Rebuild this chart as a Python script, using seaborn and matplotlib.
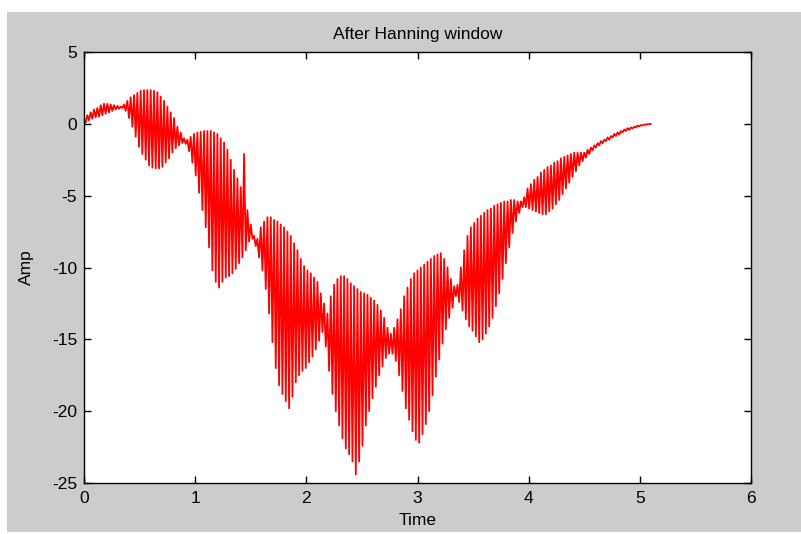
import numpy as np
import pandas as pd
import matplotlib
matplotlib.use("Agg")
import matplotlib.pyplot as plt
import seaborn as sns
from matplotlib.patches import Rectangle

# Windowed signal: local maxima (at t = 0, 0.03, ... 5.10 s) and
# local minima (half a step later) of the fast oscillation.
sample_step = 0.03
peak_amp = [
    0.0, 0.6, 0.8, 1.0, 1.1, 1.3, 1.4, 1.4, 1.35, 1.3,
    1.25, 1.2, 1.35, 1.6, 1.85, 2.0, 2.15, 2.3, 2.35, 2.35,
    2.35, 2.3, 2.2, 1.9, 1.6, 1.2, 0.8, 0.4, -0.2, -0.6,
    -1.0, -1.1, -0.9, -0.7, -0.6, -0.55, -0.5, -0.5, -0.5, -0.6,
    -0.7, -1.0, -1.3, -1.8, -2.5, -3.2, -3.8, -4.4, -2.1, -6.0,
    -7.0, -7.8, -8.0, -7.2, -6.8, -6.5, -6.5, -6.7, -6.8, -7.0,
    -7.2, -7.5, -7.8, -8.3, -8.8, -9.4, -9.9, -10.2, -10.4, -10.7,
    -11.0, -11.8, -12.5, -13.2, -12.0, -11.2, -10.8, -10.6, -10.6, -10.8,
    -11.1, -11.3, -11.5, -11.7, -11.8, -11.9, -12.1, -12.3, -12.6, -13.0,
    -13.5, -14.2, -14.6, -14.2, -13.6, -12.9, -12.0, -11.4, -10.8, -10.4,
    -10.2, -10.0, -9.8, -9.6, -9.4, -9.2, -9.1, -9.0, -9.4, -10.0,
    -10.8, -11.3, -11.2, -10.0, -8.8, -7.8, -7.2, -6.9, -6.6, -6.4,
    -6.2, -6.0, -5.9, -5.7, -5.6, -5.5, -5.4, -5.4, -5.3, -5.3,
    -5.4, -5.4, -5.1, -4.5, -4.2, -3.9, -3.7, -3.4, -3.2, -3.0,
    -2.9, -2.7, -2.6, -2.4, -2.3, -2.2, -2.1, -2.0, -2.0, -2.0,
    -2.0, -1.8, -1.65, -1.5, -1.35, -1.2, -1.1, -0.95, -0.85, -0.7,
    -0.6, -0.5, -0.4, -0.3, -0.25, -0.2, -0.12, -0.08, -0.05, -0.02,
    0.0,
]
trough_amp = [
    0.1, 0.25, 0.35, 0.45, 0.5, 0.6, 0.7, 0.8, 0.9, 1.0,
    1.05, 1.1, 0.9, 0.4, -0.2, -0.9, -1.6, -2.1, -2.5, -2.9,
    -3.05, -3.1, -3.1, -3.0, -2.7, -2.4, -2.0, -1.7, -1.5, -1.35,
    -1.4, -1.9, -2.7, -3.6, -4.8, -6.0, -7.2, -8.6, -10.2, -11.0,
    -11.4, -11.0, -10.7, -10.6, -10.4, -10.1, -9.7, -9.3, -8.8, -8.2,
    -8.0, -8.5, -9.3, -10.2, -11.5, -13.2, -15.2, -17.0, -18.2, -18.8,
    -19.3, -19.8, -19.0, -18.0, -17.5, -17.2, -17.0, -16.6, -16.2, -15.7,
    -15.1, -14.5, -15.5, -17.2, -18.8, -20.0, -21.0, -21.9, -22.6, -23.0,
    -23.5, -24.4, -23.5, -22.4, -21.0, -20.0, -19.1, -18.3, -17.5, -16.9,
    -16.3, -16.0, -16.0, -16.5, -17.5, -18.6, -19.8, -20.6, -21.4, -22.0,
    -22.2, -21.6, -20.9, -20.0, -18.9, -17.6, -16.4, -15.3, -14.3, -13.5,
    -12.8, -12.0, -12.4, -13.0, -13.6, -14.1, -14.4, -14.8, -15.2, -15.0,
    -14.6, -14.1, -13.5, -12.7, -11.8, -10.8, -9.7, -8.6, -7.6, -6.8,
    -6.2, -5.8, -5.8, -5.9, -6.0, -6.1, -6.2, -6.3, -6.3, -6.1,
    -5.9, -5.6, -5.3, -4.9, -4.5, -4.1, -3.7, -3.3, -2.9, -2.6,
    -2.35, -2.1, -1.85, -1.65, -1.5, -1.35, -1.2, -1.1, -0.95, -0.85,
    -0.75, -0.6, -0.5, -0.42, -0.33, -0.25, -0.18, -0.12, -0.07, -0.03,
]

x_ticks = [0, 1, 2, 3, 4, 5, 6]
y_ticks = [5, 0, -5, -10, -15, -20, -25]

peak_time = np.arange(len(peak_amp)) * sample_step
trough_time = np.arange(len(trough_amp)) * sample_step + sample_step / 2

times, amps = [], []
for i in range(len(peak_amp)):
    times.append(peak_time[i])
    amps.append(peak_amp[i])
    if i < len(trough_amp):
        times.append(trough_time[i])
        amps.append(trough_amp[i])
df = pd.DataFrame({"Time": times, "Amp": amps})

sns.set_theme(style="white")
plt.rcParams["font.family"] = ["Liberation Sans", "DejaVu Sans"]

W, H = 801, 534
fig = plt.figure(figsize=(W / 100, H / 100), dpi=100, facecolor="white")
# grey figure panel with a thin white margin at top and left
fig.add_artist(Rectangle((7 / W, 2 / H), 1 - 7 / W, (532 - 12) / H,
                         transform=fig.transFigure, facecolor="#cccccc",
                         edgecolor="none", zorder=-10))

ax = fig.add_axes([84 / W, (H - 483) / H, (751 - 84) / W, (483 - 52) / H])
ax.set_zorder(1)
ax.set_facecolor("white")

sns.lineplot(data=df, x="Time", y="Amp", sort=False, estimator=None,
             color="#ff0000", linewidth=1.3, ax=ax)

ax.set_xlim(0, 6)
ax.set_ylim(-25, 5)
ax.set_xticks(x_ticks)
ax.set_yticks(y_ticks)
ax.set_xticklabels([str(v) for v in x_ticks])
ax.set_yticklabels([str(v) for v in y_ticks])
ax.tick_params(direction="in", length=5, width=1, colors="black",
               labelsize=12.5, top=True, right=True, bottom=True, left=True)
ax.tick_params(axis="x", pad=6)
ax.tick_params(axis="y", pad=5)
for sp in ax.spines.values():
    sp.set_visible(True)
    sp.set_color("black")
    sp.set_linewidth(1.0)

ax.set_xlabel("Time", fontsize=12.5, color="black", labelpad=5)
ax.set_ylabel("Amp", fontsize=12.5, color="black", labelpad=13)
ax.set_title("After Hanning window", fontsize=12.5, color="black", pad=9)

fig.savefig("out.png", dpi=100, facecolor=fig.get_facecolor())
